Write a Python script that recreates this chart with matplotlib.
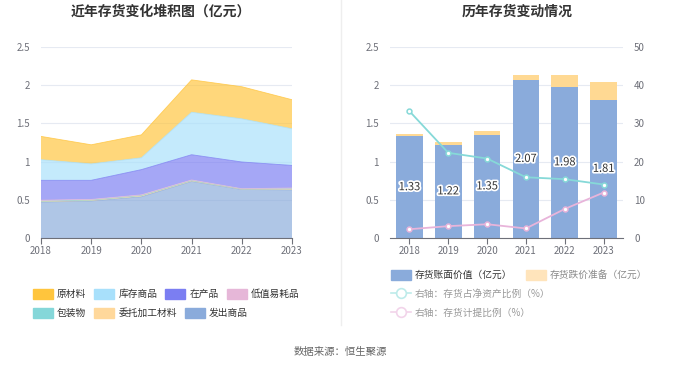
import numpy as np
import matplotlib
matplotlib.use('Agg')
import matplotlib.pyplot as plt
from matplotlib.patches import Patch
from matplotlib.lines import Line2D
import matplotlib.patheffects as pe

plt.rcParams['font.family'] = ['Noto Sans CJK SC', 'DejaVu Sans']

# data
years = [2018, 2019, 2020, 2021, 2022, 2023]
year_labels = ['2018', '2019', '2020', '2021', '2022', '2023']

# stacked area (亿元), bottom to top
fachu = [0.47, 0.485, 0.54, 0.74, 0.635, 0.63]          # 发出商品
weituo = [0.008, 0.008, 0.012, 0.008, 0.004, 0.01]      # 委托加工材料
baozhuang = [0.004, 0.004, 0.005, 0.004, 0.003, 0.005]  # 包装物
dizhi = [0.013, 0.008, 0.008, 0.008, 0.003, 0.01]       # 低值易耗品
zaichan = [0.26, 0.25, 0.33, 0.33, 0.35, 0.295]         # 在产品
kucun = [0.27, 0.215, 0.155, 0.556, 0.565, 0.48]        # 库存商品
yuancai = [0.305, 0.25, 0.30, 0.424, 0.42, 0.38]        # 原材料

# right chart
book_value = [1.33, 1.22, 1.35, 2.07, 1.98, 1.81]       # 存货账面价值
impairment = [0.03, 0.04, 0.045, 0.06, 0.16, 0.235]     # 存货跌价准备
net_asset_ratio = [33.2, 22.3, 20.8, 15.9, 15.4, 14.0]  # 存货占净资产比例
provision_ratio = [2.3, 3.1, 3.6, 2.5, 7.6, 11.9]       # 存货计提比例

c_yuan = '#FFC53D'
c_kucun = '#A8E0FB'
c_zai = '#7B7EF2'
c_dizhi = '#E6B7D8'
c_bao = '#85D7D9'
c_wei = '#FFD89B'
c_fachu = '#8AABDB'
c_teal = '#86D9D8'
c_pink = '#E8B4DA'
tick_c = '#6E7079'
grid_c = '#E6EAF2'

W, H = 680, 367
fig = plt.figure(figsize=(6.8, 3.67), dpi=100)


def px_axes(x0, y0, x1, y1):
    return fig.add_axes([x0 / W, 1 - y1 / H, (x1 - x0) / W, (y1 - y0) / H])


def style_axis(ax):
    for s in ['top', 'right', 'left']:
        ax.spines[s].set_visible(False)
    ax.spines['bottom'].set_color(tick_c)
    ax.tick_params(axis='y', length=0, labelsize=7, colors=tick_c, pad=8)
    ax.tick_params(axis='x', length=4, labelsize=7, colors=tick_c, color=tick_c, pad=2)
    ax.set_ylim(0, 2.5)
    ax.set_yticks([0, 0.5, 1, 1.5, 2, 2.5])
    ax.set_yticklabels(['0', '0.5', '1', '1.5', '2', '2.5'])
    ax.grid(axis='y', color=grid_c, lw=0.8)
    ax.set_axisbelow(True)


# left: stacked area
ax1 = px_axes(41, 47, 292, 238)
layers = [fachu, weituo, baozhuang, dizhi, zaichan, kucun, yuancai]
cols = [c_fachu, c_wei, c_bao, c_dizhi, c_zai, c_kucun, c_yuan]
ax1.stackplot(years, layers, colors=cols, alpha=0.68, lw=0)
tops = np.cumsum(np.array(layers), axis=0)
for i in range(len(layers)):
    ax1.plot(years, tops[i], color=cols[i], lw=0.6, alpha=0.8)
style_axis(ax1)
ax1.set_xlim(2018, 2023)
ax1.set_xticks(years)
ax1.set_xticklabels(year_labels)

# right: bars + lines
ax2 = px_axes(390, 47, 623, 238)
x = np.arange(len(years))
ax2.bar(x, book_value, width=0.69, color=c_fachu, zorder=2)
ax2.bar(x, impairment, width=0.69, bottom=book_value, color='#FFD993', zorder=2)
for xi, v in zip(x, book_value):
    ax2.text(xi, v / 2, f'{v:.2f}', ha='center', va='center', fontsize=8,
             color='#333333', zorder=5,
             path_effects=[pe.withStroke(linewidth=2.5, foreground='white')])
style_axis(ax2)
ax2.set_xlim(-0.5, 5.5)
ax2.set_xticks(x)
ax2.set_xticklabels(year_labels)

ax3 = ax2.twinx()
ax3.plot(x, net_asset_ratio, color=c_teal, lw=1.3, marker='o', ms=3.5,
         mfc='white', mec=c_teal, mew=1.1, zorder=4)
ax3.plot(x, provision_ratio, color=c_pink, lw=1.3, marker='o', ms=3.5,
         mfc='white', mec=c_pink, mew=1.1, zorder=4)
ax3.set_ylim(0, 50)
ax3.set_yticks([0, 10, 20, 30, 40, 50])
for s in ['top', 'right', 'left', 'bottom']:
    ax3.spines[s].set_visible(False)
ax3.tick_params(axis='y', length=0, labelsize=7, colors=tick_c, pad=8)

# titles
fig.text(161 / W, 1 - 12 / H, '近年存货变化堆积图（亿元）', ha='center', va='center',
         fontsize=10, fontweight='bold', color='#333333')
fig.text(517 / W, 1 - 12 / H, '历年存货变动情况', ha='center', va='center',
         fontsize=10, fontweight='bold', color='#333333')
fig.add_artist(Line2D([341 / W, 341 / W], [1 - 325 / H, 1], color='#EEEEEE', lw=1))
fig.text(340 / W, 1 - 352 / H, '数据来源：恒生聚源', ha='center', va='center',
         fontsize=7.5, color='#666666')

# legends
fs = 7
em = fs * 100 / 72
leg_kw = dict(loc='center left', frameon=False, fontsize=fs, borderpad=0,
              borderaxespad=0, handlelength=20 / em, handleheight=11 / em,
              handletextpad=4 / em, columnspacing=8 / em, labelcolor='#333333')

row1 = [('原材料', c_yuan), ('库存商品', c_kucun), ('在产品', c_zai), ('低值易耗品', c_dizhi)]
row2 = [('包装物', c_bao), ('委托加工材料', c_wei), ('发出商品', c_fachu)]
for row, yp in [(row1, 294), (row2, 313)]:
    lg = fig.legend([Patch(color=c) for _, c in row], [n for n, _ in row], ncol=len(row),
                    bbox_to_anchor=(33 / W, 1 - yp / H), **leg_kw)

lg = fig.legend([Patch(color=c_fachu), Patch(color='#FFE4BB')],
                ['存货账面价值（亿元）', '存货跌价准备（亿元）'], ncol=2,
                bbox_to_anchor=(391 / W, 1 - 275 / H),
                **{**leg_kw, 'columnspacing': 13 / em, 'labelcolor': None})
lg.get_texts()[0].set_color('#333333')
lg.get_texts()[1].set_color('#888888')

for lab, c, yp in [('右轴：存货占净资产比例（%）', '#BDEBEA', 294),
                   ('右轴：存货计提比例（%）', '#F2D4EA', 313)]:
    h = Line2D([], [], color=c, lw=1.2, marker='o', ms=7, mfc='white', mec=c, mew=1.2)
    lg = fig.legend([h], [lab], bbox_to_anchor=(391 / W, 1 - yp / H),
                    **{**leg_kw, 'labelcolor': '#999999'})

fig.savefig('out.png', dpi=100, facecolor='white')
